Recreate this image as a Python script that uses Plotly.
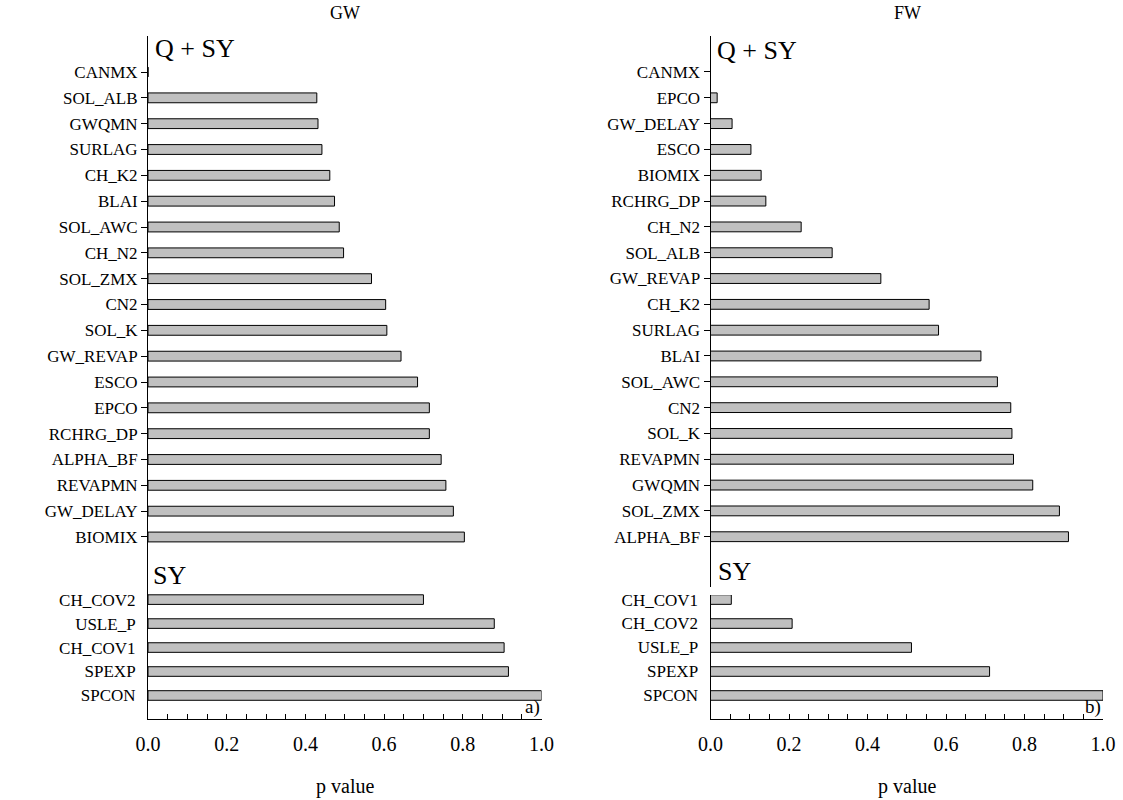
import plotly.graph_objects as go

# ---- data ----
gw_upper_params = ["CANMX", "SOL_ALB", "GWQMN", "SURLAG", "CH_K2", "BLAI", "SOL_AWC", "CH_N2",
                   "SOL_ZMX", "CN2", "SOL_K", "GW_REVAP", "ESCO", "EPCO", "RCHRG_DP", "ALPHA_BF",
                   "REVAPMN", "GW_DELAY", "BIOMIX"]
gw_upper_p = [0.0, 0.429, 0.432, 0.442, 0.462, 0.474, 0.486, 0.497, 0.568, 0.604, 0.607,
              0.643, 0.685, 0.715, 0.715, 0.745, 0.757, 0.776, 0.804]
gw_lower_params = ["CH_COV2", "USLE_P", "CH_COV1", "SPEXP", "SPCON"]
gw_lower_p = [0.700, 0.880, 0.905, 0.916, 1.0]

fw_upper_params = ["CANMX", "EPCO", "GW_DELAY", "ESCO", "BIOMIX", "RCHRG_DP", "CH_N2", "SOL_ALB",
                   "GW_REVAP", "CH_K2", "SURLAG", "BLAI", "SOL_AWC", "CN2", "SOL_K", "REVAPMN",
                   "GWQMN", "SOL_ZMX", "ALPHA_BF"]
fw_upper_p = [0.0, 0.017, 0.055, 0.103, 0.129, 0.141, 0.231, 0.310, 0.434, 0.557, 0.581,
              0.689, 0.731, 0.765, 0.768, 0.772, 0.821, 0.889, 0.912]
fw_lower_params = ["CH_COV1", "CH_COV2", "USLE_P", "SPEXP", "SPCON"]
fw_lower_p = [0.053, 0.208, 0.512, 0.711, 1.0]

panel_titles = ["GW", "FW"]
panel_tags = ["a)", "b)"]
x_tick_vals = [0.0, 0.2, 0.4, 0.6, 0.8, 1.0]
x_tick_text = ["0.0", "0.2", "0.4", "0.6", "0.8", "1.0"]
x_title = "p value"
group_labels = ["Q + SY", "SY"]

# ---- layout helpers ----
W, H = 1123, 800
FONT = "Liberation Serif"
BAR_FILL = "#c0c0c0"


def px_y(p):
    return 1 - p / H


def px_x(p):
    return p / W


x_dom = [[px_x(148), px_x(541.5)], [px_x(710.5), px_x(1103)]]
up_dom = [[px_y(556), px_y(36)], [px_y(586.7), px_y(36)]]
lo_dom = [[px_y(718.7), px_y(556)], [px_y(718.7), px_y(595)]]
up_rng = [[-0.736, 19.394], [-1.936, 19.394]]
lo_rng = [[-0.968, 5.819], [-0.968, 4.19]]

fig = go.Figure()

panels = [
    (gw_upper_params, gw_upper_p, gw_lower_params, gw_lower_p),
    (fw_upper_params, fw_upper_p, fw_lower_params, fw_lower_p),
]

ylab_font = dict(family=FONT, size=17, color="black")
xlab_font = dict(family=FONT, size=20, color="black")

for i, (up_cat, up_val, lo_cat, lo_val) in enumerate(panels):
    ua = 2 * i + 1
    la = 2 * i + 2
    ux = "x" if ua == 1 else f"x{ua}"
    uy = "y" if ua == 1 else f"y{ua}"
    lx = f"x{la}"
    ly = f"y{la}"

    up_order = list(reversed(up_cat))
    lo_order = list(reversed(lo_cat))

    fig.add_trace(go.Bar(
        x=up_val, y=up_cat, orientation="h", xaxis=ux, yaxis=uy, width=0.38,
        marker=dict(color=BAR_FILL, line=dict(color="black", width=1)),
        showlegend=False, hoverinfo="x+y"))
    fig.add_trace(go.Bar(
        x=lo_val, y=lo_cat, orientation="h", xaxis=lx, yaxis=ly, width=0.40,
        marker=dict(color=BAR_FILL, line=dict(color="black", width=1)),
        showlegend=False, hoverinfo="x+y"))

    ukx = "xaxis" if ua == 1 else f"xaxis{ua}"
    uky = "yaxis" if ua == 1 else f"yaxis{ua}"
    lkx = f"xaxis{la}"
    lky = f"yaxis{la}"

    fig.update_layout(**{
        ukx: dict(domain=x_dom[i], range=[0, 1], visible=False, anchor=uy, automargin=False),
        uky: dict(domain=up_dom[i], type="category", categoryorder="array",
                  categoryarray=up_order, range=up_rng[i], anchor=ux, automargin=False,
                  showline=True, linecolor="black", linewidth=1,
                  ticks="outside", ticklen=6, tickcolor="black", tickwidth=1,
                  tickfont=ylab_font, showgrid=False, zeroline=False),
        lkx: dict(domain=x_dom[i], range=[0, 1], anchor=ly, automargin=False,
                  showline=True, linecolor="black", linewidth=1,
                  tickmode="array", tickvals=x_tick_vals, ticktext=x_tick_text,
                  ticks="inside", ticklen=5, tickcolor="black", tickwidth=1,
                  minor=dict(dtick=0.05, ticks="inside", ticklen=5, tickcolor="black", tickwidth=1,
                             showgrid=False),
                  tickfont=xlab_font, ticklabelstandoff=7,
                  showgrid=False, zeroline=False),
        lky: dict(domain=lo_dom[i], type="category", categoryorder="array",
                  categoryarray=lo_order, range=lo_rng[i], anchor=lx, automargin=False,
                  showline=True, linecolor="black", linewidth=1,
                  ticks="", ticklabelstandoff=8,
                  tickfont=ylab_font, showgrid=False, zeroline=False),
    })

annos = []
title_x = [345, 907]
for i in range(2):
    annos.append(dict(text=panel_titles[i], x=px_x(title_x[i]), y=px_y(13), xref="paper", yref="paper",
                      showarrow=False, font=dict(family=FONT, size=18, color="black"),
                      xanchor="center", yanchor="middle"))
    annos.append(dict(text=x_title, x=px_x(title_x[i]), y=px_y(786), xref="paper", yref="paper",
                      showarrow=False, font=dict(family=FONT, size=20, color="black"),
                      xanchor="center", yanchor="middle"))
    annos.append(dict(text=panel_tags[i], x=x_dom[i][1], y=px_y(707), xref="paper", yref="paper",
                      showarrow=False, font=dict(family=FONT, size=19, color="black"),
                      xanchor="right", yanchor="middle"))
qsy_x = [153, 715]
qsy_y = [48, 50]
sy_x = [151, 716]
sy_y = [575, 571]
for i in range(2):
    annos.append(dict(text=group_labels[0], x=px_x(qsy_x[i]), y=px_y(qsy_y[i]), xref="paper", yref="paper",
                      showarrow=False, font=dict(family=FONT, size=26, color="black"),
                      xanchor="left", yanchor="middle"))
    annos.append(dict(text=group_labels[1], x=px_x(sy_x[i]), y=px_y(sy_y[i]), xref="paper", yref="paper",
                      showarrow=False, font=dict(family=FONT, size=26, color="black"),
                      xanchor="left", yanchor="middle"))

fig.update_layout(
    width=W, height=H,
    autosize=False,
    margin=dict(l=0, r=0, t=0, b=0, pad=0),
    paper_bgcolor="white", plot_bgcolor="white",
    annotations=annos,
    font=dict(family=FONT, color="black"),
)

fig.write_html("out.html", post_script="document.body.style.margin='0px';")
